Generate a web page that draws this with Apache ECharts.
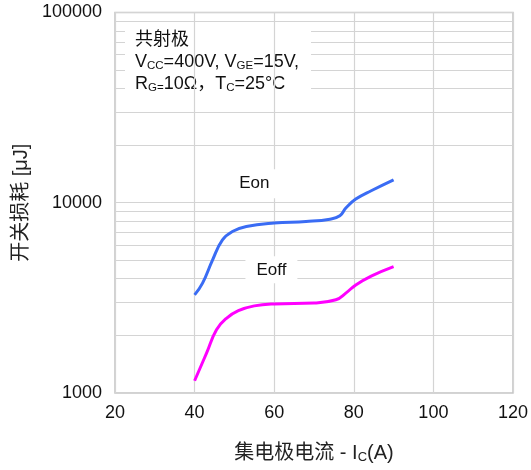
<!DOCTYPE html>
<html>
<head>
<meta charset="utf-8">
<script src="https://cdn.jsdelivr.net/npm/echarts@6/dist/echarts.min.js"></script>
<style>
html,body{margin:0;padding:0;background:#fff;}
#chart{width:531px;height:470px;}
</style>
</head>
<body>
<div id="chart"></div>
<script>
// ---- data ----
var xTicks = [20, 40, 60, 80, 100, 120];
var yTicks = [1000, 10000, 100000];
var yMinorGrid = [2000, 3000, 4000, 5000, 6000, 7000, 8000, 9000,
                  20000, 30000, 40000, 50000, 60000, 70000, 80000, 90000];
var eonIc  = [40, 42, 44.5, 47, 49.5, 53, 60, 68, 74, 76.5, 78, 80.5, 84.5, 90];
var eonVal = [3280, 3780, 5000, 6380, 7060, 7500, 7820, 7970, 8200, 8550, 9380, 10450, 11600, 13200];
var eoffIc  = [40, 43, 45.5, 48, 51, 55, 60, 70, 75.5, 78, 80.5, 84.5, 90];
var eoffVal = [1160, 1620, 2150, 2470, 2710, 2870, 2940, 2970, 3090, 3350, 3700, 4130, 4620];
var seriesNames = ['Eon', 'Eoff'];

function pairs(xs, ys){ return xs.map(function(x,i){ return [x, ys[i]]; }); }

var FONT = '"Liberation Sans", Arial, "Noto Sans CJK SC", sans-serif';
var GRID_COLOR = '#d4d4d4';
var chart = echarts.init(document.getElementById('chart'));
chart.setOption({
  animation: false,
  backgroundColor: '#fff',
  textStyle: { fontFamily: FONT },
  grid: { left: 115, right: 16, top: 12.5, bottom: 77, show: true,
          borderColor: '#c4c4c4', borderWidth: 1.5, z: 0 },
  xAxis: {
    type: 'value', min: xTicks[0], max: xTicks[xTicks.length-1], interval: 20, z: 6,
    axisLine: { show: false }, axisTick: { show: false },
    axisLabel: { fontSize: 18, color: '#111', margin: 11, fontFamily: FONT },
    splitLine: { show: true, lineStyle: { color: GRID_COLOR, width: 1.2 } },
    name: '{a|集电极电流 - I}{s|C}{a|(A)}',
    nameLocation: 'middle', nameGap: 50,
    nameTextStyle: { rich: {
      a: { fontSize: 20, color: '#222', fontFamily: FONT },
      s: { fontSize: 13, color: '#222', fontFamily: FONT, padding: [8, 0, 0, 0] }
    } }
  },
  yAxis: {
    type: 'log', logBase: 10, min: yTicks[0], max: yTicks[yTicks.length-1], z: 0,
    axisLine: { show: false }, axisTick: { show: false },
    axisLabel: { fontSize: 18, color: '#111', margin: 13, fontFamily: FONT,
                 formatter: function(v){ return String(Math.round(v)); } },
    splitLine: { show: true, lineStyle: { color: GRID_COLOR, width: 1.2 } },
    name: '开关损耗 [μJ]', nameLocation: 'middle', nameGap: 78, nameRotate: 90,
    nameTextStyle: { fontSize: 20, color: '#222', fontFamily: FONT }
  },
  graphic: [{
    type: 'text', left: 125, top: 23, z: 5,
    style: {
      text: '{a|共射极}\n{a|V}{s|CC}{a|=400V, V}{s|GE}{a|=15V,}\n{a|R}{s|G=}{a|10Ω，T}{s|C}{a|=25°C}',
      backgroundColor: '#fff', padding: [6, 12, 5, 10],
      rich: {
        a: { fontSize: 18, lineHeight: 22, fill: '#111', fontFamily: FONT },
        s: { fontSize: 11.5, lineHeight: 22, fill: '#111', fontFamily: FONT, padding: [7, 0, 0, 0] }
      }
    }
  }],
  series: [
    {
      type: 'line', data: [], z: 0, silent: true,
      markLine: {
        silent: true, symbol: 'none', animation: false, z: 0,
        label: { show: false },
        lineStyle: { color: GRID_COLOR, width: 1.2, type: 'solid' },
        data: yMinorGrid.map(function(v){ return { yAxis: v }; })
      }
    },
    {
      name: seriesNames[0], type: 'line', z: 10, smooth: 0.45, showSymbol: false,
      data: pairs(eonIc, eonVal),
      lineStyle: { color: '#3a6cf4', width: 3 },
      markPoint: {
        symbol: 'rect', symbolSize: 0, z: 10,
        label: { show: true, position: 'inside', formatter: seriesNames[0], color: '#111',
                 fontSize: 17, backgroundColor: '#fff', padding: [6, 9], fontFamily: FONT },
        data: [{ coord: [55, 12600] }]
      }
    },
    {
      name: seriesNames[1], type: 'line', z: 10, smooth: 0.45, showSymbol: false,
      data: pairs(eoffIc, eoffVal),
      lineStyle: { color: '#ff00ff', width: 3 },
      markPoint: {
        symbol: 'rect', symbolSize: 0, z: 10,
        label: { show: true, position: 'inside', formatter: seriesNames[1], color: '#111',
                 fontSize: 17, backgroundColor: '#fff', padding: [5, 11], fontFamily: FONT },
        data: [{ coord: [59.3, 4440] }]
      }
    }
  ]
});
</script>
</body>
</html>
